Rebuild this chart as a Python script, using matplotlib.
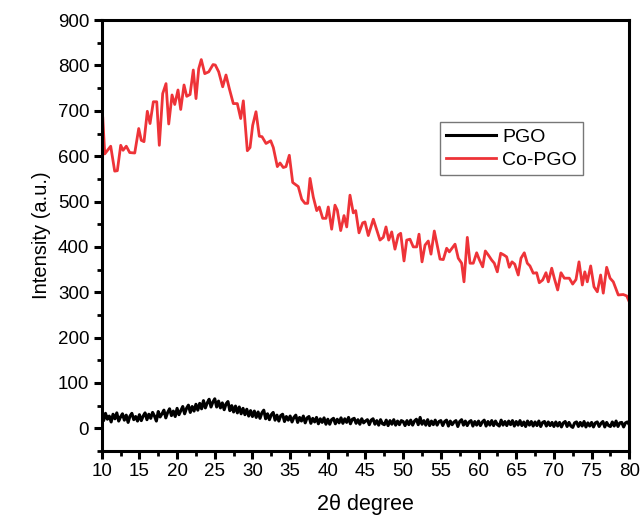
import numpy as np
import matplotlib
matplotlib.use("Agg")
import matplotlib.pyplot as plt
from matplotlib.ticker import MultipleLocator

plt.rcParams['font.family'] = ['Liberation Sans', 'DejaVu Sans']

# Co-PGO (red) trace
co_x = [10.0, 10.13, 10.4, 11.19, 11.72, 12.07, 12.52, 12.83, 13.26, 13.71, 14.38, 14.91, 15.25, 15.61,
        16.05, 16.41, 16.85, 17.3, 17.64, 18.09, 18.53, 18.89, 19.33, 19.69, 20.12, 20.48, 20.92,
        21.28, 21.72, 22.15, 22.51, 22.87, 23.21, 23.67, 24.2, 24.77, 25.07, 25.52, 26.05, 26.49,
        26.93, 27.46, 27.99, 28.44, 28.79, 29.32, 29.68, 30.03, 30.47, 30.91, 31.27, 31.8, 32.42,
        32.77, 33.3, 33.66, 34.09, 34.45, 34.89, 35.34, 36.08, 36.54, 36.97, 37.33, 37.64, 38.07,
        38.53, 38.87, 39.32, 39.76, 40.06, 40.51, 40.95, 41.26, 41.71, 42.15, 42.51, 42.94, 43.38,
        43.7, 44.14, 44.63, 44.93, 45.37, 46.04, 46.92, 47.36, 47.72, 48.08, 48.48, 48.91, 49.35,
        49.67, 50.11, 50.47, 50.9, 51.34, 51.79, 52.1, 52.5, 52.9, 53.33, 53.69, 54.13, 54.89,
        55.32, 55.77, 56.12, 56.88, 57.31, 57.76, 58.07, 58.51, 58.87, 59.3, 59.75, 60.1, 60.55,
        60.9, 61.3, 61.74, 62.09, 62.49, 62.94, 63.38, 63.73, 64.08, 64.44, 64.8, 65.27, 65.63,
        66.07, 66.47, 66.82, 67.26, 67.71, 68.06, 68.51, 68.95, 69.26, 69.71, 70.05, 70.5, 70.94,
        71.38, 72.04, 72.49, 72.93, 73.33, 73.77, 74.1, 74.43, 74.88, 75.32, 75.76, 76.2, 76.55,
        77.0, 77.45, 77.88, 78.54, 79.2, 79.66, 80.0]
co_y = [680, 687, 605, 622, 567, 568, 624, 613, 622, 608, 607, 661, 635, 632,
        699, 672, 720, 720, 624, 738, 760, 671, 735, 714, 746, 703, 757,
        732, 736, 790, 727, 793, 813, 782, 786, 802, 801, 786, 753, 779,
        749, 716, 716, 683, 722, 612, 619, 668, 698, 644, 643, 628, 634,
        619, 577, 585, 575, 577, 602, 542, 533, 505, 496, 496, 551, 510,
        480, 488, 463, 463, 488, 439, 492, 481, 436, 469, 444, 514, 475,
        480, 431, 453, 455, 425, 461, 415, 421, 444, 415, 433, 395, 426,
        430, 369, 415, 417, 400, 400, 428, 367, 404, 413, 384, 435, 373,
        372, 397, 389, 406, 375, 364, 323, 421, 364, 364, 387, 372, 356,
        391, 382, 371, 364, 345, 386, 382, 378, 355, 367, 362, 338, 375,
        387, 364, 358, 342, 343, 321, 327, 343, 323, 353, 331, 305, 343,
        331, 331, 318, 328, 367, 316, 345, 323, 358, 312, 301, 338, 298,
        355, 331, 323, 294, 295, 292, 279]

# PGO (black) trace, sampled every 0.25 degree
pgo_start, pgo_step = 10.0, 0.25
pgo_y = [30, 17, 33, 20, 27, 14, 31, 21, 34, 16, 25, 32, 18, 29, 13, 27, 33, 19, 26, 16,
         30, 17, 27, 34, 19, 31, 22, 35, 27, 16, 37, 25, 32, 40, 23, 35, 43, 28, 38, 26,
         44, 30, 39, 48, 32, 44, 51, 35, 48, 38, 53, 40, 55, 43, 61, 45, 56, 64, 47, 58,
         65, 47, 60, 45, 56, 41, 54, 59, 39, 50, 36, 49, 34, 47, 32, 44, 30, 42, 27, 39,
         26, 38, 24, 36, 22, 34, 40, 21, 32, 19, 30, 35, 18, 29, 16, 28, 31, 15, 26, 18,
         27, 14, 24, 29, 13, 24, 16, 27, 12, 23, 26, 11, 22, 14, 24, 10, 21, 13, 23, 9,
         20, 9, 19, 22, 10, 20, 12, 23, 11, 21, 13, 24, 10, 20, 22, 11, 19, 9, 21, 12,
         16, 19, 8, 18, 21, 9, 17, 7, 19, 10, 8, 18, 6, 17, 9, 19, 7, 16, 8, 17,
         15, 6, 17, 8, 18, 7, 16, 20, 8, 24, 9, 17, 7, 19, 6, 16, 8, 18, 7, 15,
         17, 6, 15, 18, 5, 16, 8, 14, 17, 4, 15, 19, 7, 16, 6, 14, 17, 5, 15, 7,
         16, 6, 14, 18, 5, 15, 7, 17, 6, 16, 8, 5, 18, 7, 15, 6, 16, 8, 17, 5,
         15, 7, 17, 6, 14, 4, 16, 7, 15, 5, 14, 6, 16, 4, 13, 15, 5, 14, 6, 13,
         4, 14, 5, 13, 3, 12, 15, 4, 13, 5, 2, 12, 14, 4, 13, 5, 15, 3, 12, 5,
         13, 3, 12, 14, 4, 11, 15, 3, 13, 6, 4, 14, 5, 16, 4, 12, 13, 3, 12, 14,
         8]
pgo_x = pgo_start + pgo_step * np.arange(len(pgo_y))

fig = plt.figure(figsize=(6.41, 5.16), dpi=100)
ax = fig.add_axes([0.1587, 0.126, 0.823, 0.835])

ax.plot(pgo_x, pgo_y, color='black', lw=2.2, label='PGO')
ax.plot(co_x, co_y, color='#ee3338', lw=2.0, label='Co-PGO')

ax.set_xlim(10, 80)
ax.set_ylim(-50, 900)
ax.xaxis.set_major_locator(MultipleLocator(5))
ax.xaxis.set_minor_locator(MultipleLocator(2.5))
ax.yaxis.set_major_locator(MultipleLocator(100))
ax.yaxis.set_minor_locator(MultipleLocator(50))
ax.set_yticks(range(0, 901, 100))

for s in ax.spines.values():
    s.set_linewidth(2.2)
ax.tick_params(which='major', direction='out', length=6, width=2.2, labelsize=13.5, pad=3)
ax.tick_params(which='minor', direction='out', length=3.5, width=2.0)

ax.set_xlabel('2θ degree', fontsize=15.5, labelpad=10)
ax.set_ylabel('Intensity (a.u.)', fontsize=14.5, labelpad=5)

leg = ax.legend(loc='upper right', bbox_to_anchor=(0.912, 0.763), fontsize=14,
                frameon=True, fancybox=False, handlelength=2.6, borderpad=0.3,
                labelspacing=0.3, handletextpad=0.3, borderaxespad=0)
leg.get_frame().set_edgecolor('#555555')
leg.get_frame().set_linewidth(1.0)

fig.savefig('out.png', dpi=100)
